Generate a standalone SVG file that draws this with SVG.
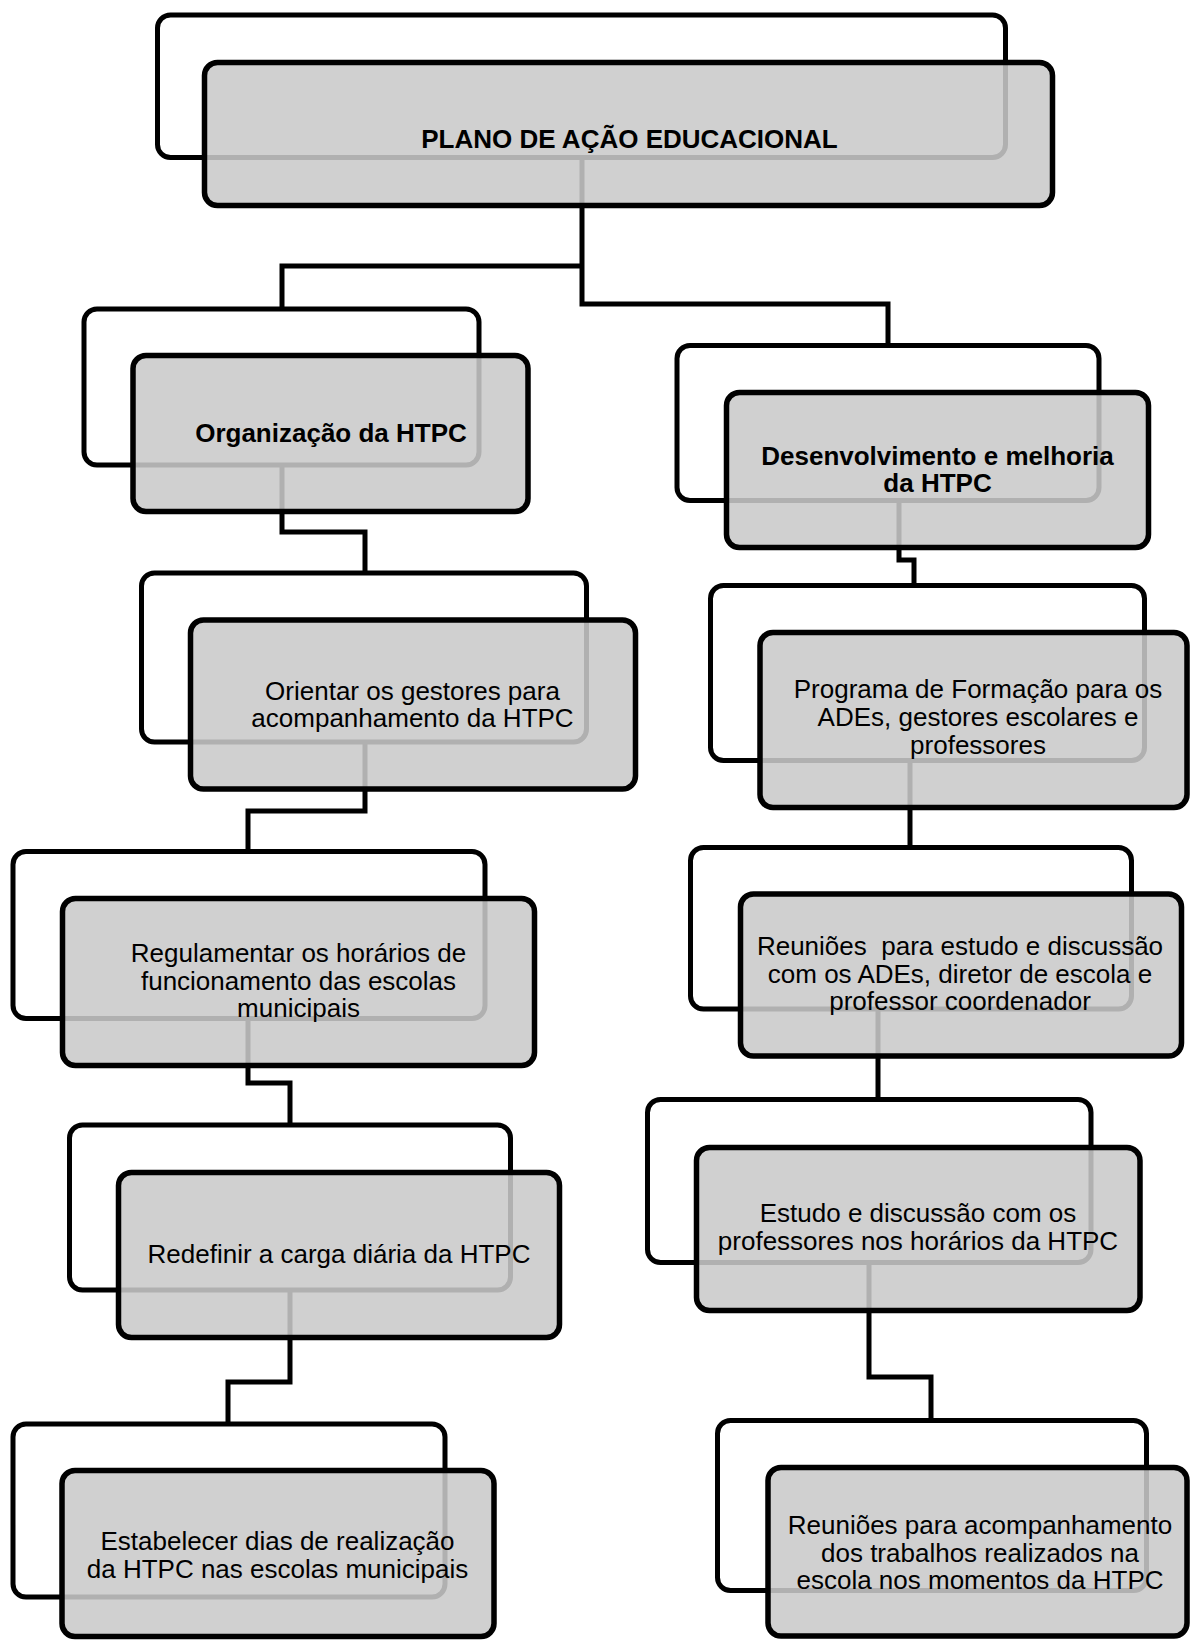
<svg xmlns="http://www.w3.org/2000/svg" width="1190" height="1641" viewBox="0 0 1190 1641">
<style>
.bk{fill:#ffffff;stroke:#000;stroke-width:5}
.fr{fill:rgb(201,201,201);fill-opacity:0.875;stroke:#000;stroke-width:5.5}
.cn{fill:none;stroke:#000;stroke-width:5;stroke-linejoin:miter}
.t{font-family:"Liberation Sans",Arial,sans-serif;font-size:26px;fill:#000;text-anchor:middle}
.b{font-weight:bold}
</style>
<rect width="1190" height="1641" fill="#fff"/>
<g id="connectors">
<path class="cn" d="M582,157 V304 H888 V345"/>
<path class="cn" d="M582,266 H282 V309"/>
<path class="cn" d="M282,464 V532 H365 V573"/>
<path class="cn" d="M365,742 V811 H248 V851"/>
<path class="cn" d="M248,1018 V1083 H290 V1125"/>
<path class="cn" d="M290,1290 V1382 H228 V1424"/>
<path class="cn" d="M899,500 V560 H914 V585"/>
<path class="cn" d="M910,760 V848"/>
<path class="cn" d="M878,1009 V1100"/>
<path class="cn" d="M869,1262 V1377 H931 V1421"/>
</g>
<g id="n-plano">
<rect class="bk" x="157.5" y="15" width="848" height="142.5" rx="13"/>
<rect class="fr" x="204.5" y="62.5" width="848" height="143" rx="13"/>
<text class="t b" x="629.5" y="148">PLANO DE AÇÃO EDUCACIONAL</text>
</g>
<g id="n-organizacao">
<rect class="bk" x="84" y="309" width="395" height="156" rx="13"/>
<rect class="fr" x="133" y="355.5" width="395" height="156" rx="13"/>
<text class="t b" x="331" y="441.7">Organização da HTPC</text>
</g>
<g id="n-orientar">
<rect class="bk" x="141.5" y="573" width="445" height="169" rx="13"/>
<rect class="fr" x="190.5" y="620" width="445" height="169" rx="13"/>
<text class="t" x="412.5" y="700">Orientar os gestores para</text>
<text class="t" x="412.5" y="727">acompanhamento da HTPC</text>
</g>
<g id="n-regulamentar">
<rect class="bk" x="13" y="851.5" width="472" height="167" rx="13"/>
<rect class="fr" x="62.5" y="898.5" width="472" height="167" rx="13"/>
<text class="t" x="298.5" y="962">Regulamentar os horários de</text>
<text class="t" x="298.5" y="989.5">funcionamento das escolas</text>
<text class="t" x="298.5" y="1017">municipais</text>
</g>
<g id="n-redefinir">
<rect class="bk" x="69.5" y="1125" width="441" height="165" rx="13"/>
<rect class="fr" x="118.5" y="1172.5" width="441" height="165" rx="13"/>
<text class="t" x="339" y="1263.3">Redefinir a carga diária da HTPC</text>
</g>
<g id="n-estabelecer">
<rect class="bk" x="13" y="1424" width="432" height="173" rx="13"/>
<rect class="fr" x="62" y="1470.5" width="432" height="166" rx="13"/>
<text class="t" x="277.5" y="1550">Estabelecer dias de realização</text>
<text class="t" x="277.5" y="1578">da HTPC nas escolas municipais</text>
</g>
<g id="n-desenvolvimento">
<rect class="bk" x="677" y="345.5" width="422" height="155" rx="13"/>
<rect class="fr" x="726.5" y="392.5" width="422" height="155" rx="13"/>
<text class="t b" x="937.5" y="465">Desenvolvimento e melhoria</text>
<text class="t b" x="937.5" y="492">da HTPC</text>
</g>
<g id="n-programa">
<rect class="bk" x="710.5" y="585.5" width="434" height="175" rx="13"/>
<rect class="fr" x="760" y="632.5" width="427" height="175" rx="13"/>
<text class="t" x="978" y="698">Programa de Formação para os</text>
<text class="t" x="978" y="726">ADEs, gestores escolares e</text>
<text class="t" x="978" y="754">professores</text>
</g>
<g id="n-reunioes-estudo">
<rect class="bk" x="690.5" y="847.5" width="441" height="161.5" rx="13"/>
<rect class="fr" x="740.5" y="894" width="441" height="162" rx="13"/>
<text class="t" x="960" y="955" xml:space="preserve">Reuniões  para estudo e discussão</text>
<text class="t" x="960" y="983">com os ADEs, diretor de escola e</text>
<text class="t" x="960" y="1010">professor coordenador</text>
</g>
<g id="n-estudo">
<rect class="bk" x="647.5" y="1099.5" width="443.5" height="163" rx="13"/>
<rect class="fr" x="696.5" y="1147.5" width="443.5" height="163" rx="13"/>
<text class="t" x="918" y="1222">Estudo e discussão com os</text>
<text class="t" x="918" y="1250">professores nos horários da HTPC</text>
</g>
<g id="n-reunioes-acomp">
<rect class="bk" x="717.5" y="1420.5" width="429" height="170" rx="13"/>
<rect class="fr" x="768" y="1467.5" width="419" height="168.5" rx="13"/>
<text class="t" x="980" y="1534">Reuniões para acompanhamento</text>
<text class="t" x="980" y="1561.5">dos trabalhos realizados na</text>
<text class="t" x="980" y="1589">escola nos momentos da HTPC</text>
</g>
</svg>
